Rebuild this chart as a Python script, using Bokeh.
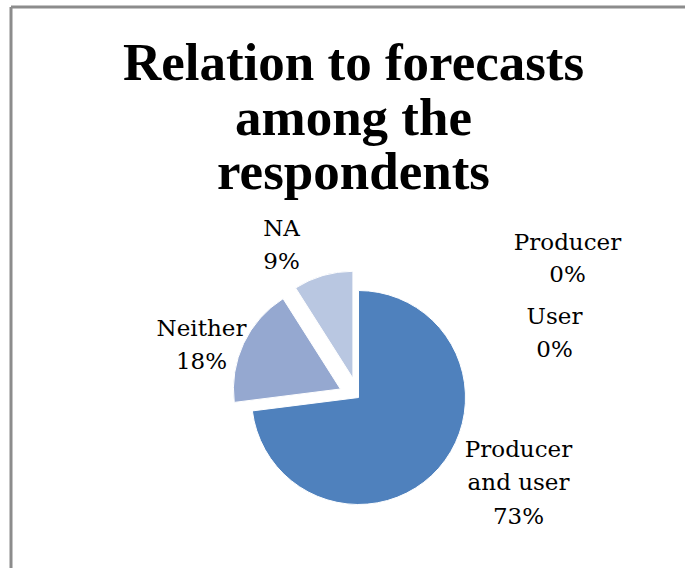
import math
from bokeh.plotting import figure
from bokeh.models import Range1d, ColumnDataSource
from bokeh.core.properties import value
from bokeh.embed import file_html
from bokeh.resources import INLINE

# ---------------- data ----------------
categories = ["Producer", "User", "Producer and user", "Neither", "NA"]
percents = [0, 0, 73, 18, 9]
colors = ["#4F81BD", "#4F81BD", "#4F81BD", "#95A8D0", "#B9C7E1"]
exploded = ["Neither", "NA"]
title_lines = ["Relation to forecasts", "among the", "respondents"]

# ---------------- layout (picture pixel coords: x right, y down) ----------------
W, H = 685, 568
def fx(X):
    return X
def fy(Y):
    return H - Y

pie_cx, pie_cy = 358, 397
pie_r = 107
explode_px = 20

# label anchors: (center x, first baseline y, line spacing)
label_layout = {
    "Producer": (567, 251, 32),
    "User": (554, 325, 33),
    "Producer and user": (518, 458, 33.5),
    "Neither": (201, 337, 33),
    "NA": (281, 237, 33),
}
label_lines = {
    "Producer and user": ["Producer", "and user"],
}
LABEL_SIZE = 23
TITLE_SIZE = 53
LABEL_CORR = 10   # baseline correction (px)
TITLE_CORR = 19

p = figure(width=W, height=H, output_backend="svg", toolbar_location=None,
           x_range=Range1d(0, W), y_range=Range1d(0, H),
           min_border=0, min_border_left=0, min_border_right=0,
           min_border_top=0, min_border_bottom=0)
p.axis.visible = False
p.grid.visible = False
p.outline_line_color = None
p.background_fill_color = "white"
p.border_fill_color = "white"

# border (left and top only visible in the window)
p.line(x=[fx(10.5), fx(10.5)], y=[fy(6.5), fy(700)], line_color="#8C8C8C", line_width=3)
p.line(x=[fx(10.5), fx(900)], y=[fy(6.5), fy(6.5)], line_color="#8C8C8C", line_width=3)

# ---------------- pie ----------------
total = float(sum(percents))
xs, ys, starts, ends, cols = [], [], [], [], []
angle = math.pi / 2  # start at 12 o'clock, go clockwise
for cat, pct, col in zip(categories, percents, colors):
    span = 2 * math.pi * pct / total
    a0 = angle - span
    a1 = angle
    angle = a0
    if pct == 0:
        continue
    mid = (a0 + a1) / 2
    off = explode_px if cat in exploded else 0
    xs.append(fx(pie_cx) + off * math.cos(mid))
    ys.append(fy(pie_cy) + off * math.sin(mid))
    starts.append(a0)
    ends.append(a1)
    cols.append(col)

src = ColumnDataSource(dict(x=xs, y=ys, start=starts, end=ends, color=cols))
p.wedge(x="x", y="y", radius=pie_r, start_angle="start", end_angle="end",
        direction="anticlock", fill_color="color", line_color="white",
        line_width=1, source=src)

# ---------------- labels ----------------
tx, ty, tt = [], [], []
for cat, pct in zip(categories, percents):
    lines = label_lines.get(cat, [cat]) + [f"{pct}%"]
    cx, b0, sp = label_layout[cat]
    for i, ln in enumerate(lines):
        tx.append(fx(cx))
        ty.append(fy(b0 + i * sp - LABEL_CORR))
        tt.append(ln)
p.text(x=tx, y=ty, text=tt, text_align="center", text_baseline="alphabetic",
       text_font=value("DejaVu Serif"), text_font_size=f"{LABEL_SIZE}px",
       text_color="#000000")

# ---------------- title ----------------
title_baselines = [80, 135, 189]
p.text(x=[fx(353)] * len(title_lines), y=[fy(b - TITLE_CORR) for b in title_baselines],
       text=title_lines, text_align="center", text_baseline="alphabetic",
       text_font=value("Liberation Serif"), text_font_style="bold",
       text_font_size=f"{TITLE_SIZE}px", text_color="#000000")

open("out.html", "w").write(file_html(p, INLINE))
